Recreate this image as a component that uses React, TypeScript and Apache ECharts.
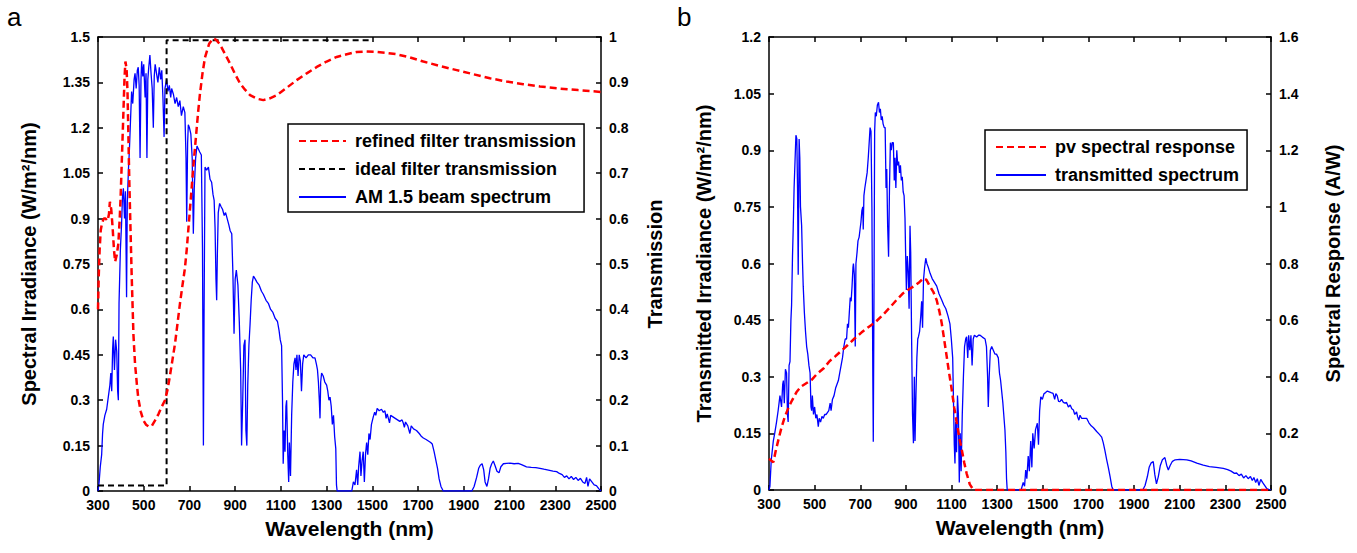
import React, { useEffect, useRef } from "react";
import * as echarts from "echarts";

// ---------- DATA ----------
const wavelengthRange = [300, 2500];
const leftTicksA = [0, 1.5, 0.15];
const rightTicksA = [0, 1, 0.1];
const leftTicksB = [0, 1.2, 0.15];
const rightTicksB = [0, 1.6, 0.2];

// AM 1.5 beam spectrum (W/m2/nm) – panel a
const am15Spectrum: [number, number][] = [
  [300,0.0],[305,0.03],[310,0.08],[316,0.12],[320,0.19],[323,0.22],[330,0.25],[338,0.27],[345,0.31],[352,0.35],[356,0.39],[360,0.33],[364,0.47],[367,0.51],[372,0.40],[377,0.50],[382,0.46],[386,0.33],[389,0.30],[392,0.62],[398,0.80],[403,0.88],[407,0.97],[411,1.00],[416,0.90],[420,0.99],[425,0.64],[428,0.95],[433,1.06],[437,1.12],[441,1.20],[447,1.32],[452,1.28],[458,1.36],[462,1.38],[467,1.33],[472,1.39],[476,1.40],[480,1.34],[484,1.10],[488,1.36],[491,1.42],[496,1.37],[500,1.41],[506,1.30],[510,1.38],[514,1.10],[518,1.36],[522,1.40],[527,1.44],[532,1.38],[537,1.33],[542,1.20],[546,1.37],[550,1.41],[556,1.38],[562,1.35],[568,1.40],[574,1.36],[579,1.39],[584,1.30],[589,1.17],[593,1.33],[600,1.36],[606,1.32],[612,1.34],[618,1.30],[622,1.33],[630,1.31],[637,1.28],[644,1.30],[651,1.27],[658,1.29],[665,1.24],[673,1.27],[680,1.25],[685,1.10],[688,0.89],[692,1.15],[695,1.21],[700,1.20],[706,1.18],[712,1.10],[717,0.85],[721,1.00],[727,1.10],[733,1.14],[739,1.13],[745,1.12],[752,1.11],[757,0.80],[761,0.15],[764,0.60],[768,1.07],[775,1.06],[783,1.07],[790,1.03],[797,1.02],[803,0.98],[808,0.96],[812,0.87],[816,0.70],[819,0.63],[822,0.78],[826,0.92],[832,0.95],[838,0.94],[845,0.93],[852,0.91],[858,0.92],[865,0.90],[872,0.88],[878,0.86],[885,0.85],[890,0.72],[895,0.52],[900,0.70],[905,0.73],[912,0.68],[918,0.56],[924,0.40],[928,0.15],[933,0.30],[938,0.48],[943,0.50],[947,0.20],[951,0.15],[955,0.35],[960,0.48],[965,0.55],[970,0.63],[975,0.69],[980,0.71],[988,0.70],[995,0.69],[1005,0.68],[1015,0.66],[1023,0.65],[1035,0.63],[1045,0.62],[1055,0.60],[1065,0.59],[1075,0.57],[1085,0.56],[1092,0.53],[1097,0.50],[1103,0.48],[1107,0.30],[1110,0.09],[1114,0.20],[1118,0.13],[1122,0.28],[1125,0.30],[1130,0.12],[1134,0.03],[1137,0.16],[1142,0.05],[1147,0.25],[1152,0.36],[1157,0.42],[1162,0.44],[1166,0.40],[1170,0.45],[1175,0.38],[1180,0.45],[1185,0.43],[1190,0.33],[1195,0.42],[1200,0.45],[1210,0.44],[1220,0.45],[1230,0.45],[1240,0.44],[1249,0.44],[1255,0.42],[1260,0.40],[1264,0.36],[1268,0.30],[1271,0.24],[1274,0.36],[1278,0.39],[1285,0.38],[1292,0.36],[1300,0.35],[1305,0.33],[1310,0.30],[1315,0.31],[1320,0.28],[1325,0.22],[1330,0.25],[1335,0.18],[1340,0.14],[1343,0.02],[1346,0.0],[1410,0.0],[1417,0.03],[1424,0.02],[1431,0.07],[1436,0.02],[1440,0.08],[1446,0.13],[1450,0.05],[1455,0.10],[1460,0.13],[1465,0.03],[1470,0.12],[1475,0.16],[1480,0.12],[1485,0.19],[1490,0.17],[1496,0.22],[1504,0.245],[1510,0.26],[1515,0.25],[1521,0.273],[1530,0.265],[1540,0.27],[1548,0.26],[1555,0.265],[1560,0.24],[1565,0.255],[1570,0.24],[1575,0.225],[1580,0.25],[1590,0.245],[1600,0.24],[1610,0.235],[1620,0.23],[1630,0.235],[1635,0.225],[1640,0.21],[1645,0.228],[1655,0.215],[1664,0.19],[1670,0.215],[1680,0.205],[1693,0.20],[1705,0.19],[1715,0.18],[1723,0.175],[1735,0.17],[1745,0.165],[1755,0.16],[1762,0.155],[1770,0.13],[1778,0.10],[1785,0.075],[1792,0.04],[1800,0.015],[1810,0.0],[1935,0.0],[1945,0.015],[1956,0.045],[1965,0.075],[1972,0.085],[1980,0.09],[1987,0.07],[1993,0.03],[2001,0.015],[2008,0.04],[2015,0.075],[2022,0.09],[2029,0.099],[2036,0.085],[2045,0.065],[2054,0.06],[2062,0.08],[2073,0.09],[2087,0.091],[2102,0.092],[2120,0.09],[2138,0.091],[2155,0.086],[2174,0.08],[2195,0.078],[2215,0.077],[2233,0.075],[2250,0.072],[2270,0.069],[2290,0.066],[2306,0.064],[2318,0.058],[2330,0.054],[2340,0.045],[2350,0.05],[2360,0.04],[2370,0.048],[2380,0.038],[2390,0.045],[2400,0.035],[2410,0.042],[2420,0.03],[2430,0.025],[2437,0.045],[2443,0.015],[2450,0.04],[2460,0.03],[2470,0.02],[2480,0.018],[2490,0.008],[2500,0.0]
];

// Refined filter transmission (0-1) – panel a, right axis
const refinedFilter: [number, number][] = [
  [300,0.40],[303,0.47],[307,0.53],[312,0.575],[318,0.59],[325,0.60],[333,0.60],[342,0.595],[348,0.61],[352,0.637],[358,0.62],[364,0.58],[370,0.53],[375,0.505],[382,0.52],[389,0.545],[395,0.60],[399,0.648],[405,0.74],[411,0.832],[416,0.91],[420,0.946],[425,0.93],[429,0.88],[433,0.78],[437,0.68],[442,0.58],[447,0.48],[455,0.344],[462,0.28],[470,0.235],[476,0.205],[487,0.175],[498,0.156],[510,0.146],[522,0.142],[535,0.143],[549,0.155],[565,0.17],[578,0.185],[593,0.2],[605,0.225],[615,0.255],[626,0.29],[637,0.325],[648,0.37],[659,0.415],[670,0.455],[680,0.49],[688,0.531],[695,0.575],[702,0.619],[710,0.67],[717,0.715],[724,0.755],[731,0.795],[738,0.835],[746,0.875],[757,0.92],[768,0.955],[786,0.985],[804,0.997],[818,0.993],[833,0.984],[855,0.963],[877,0.942],[900,0.918],[921,0.898],[943,0.884],[965,0.872],[995,0.864],[1023,0.861],[1052,0.865],[1082,0.872],[1125,0.888],[1169,0.905],[1213,0.92],[1257,0.934],[1300,0.946],[1344,0.956],[1388,0.962],[1431,0.967],[1475,0.968],[1519,0.967],[1562,0.965],[1606,0.962],[1665,0.955],[1723,0.946],[1796,0.936],[1869,0.927],[1942,0.918],[2014,0.909],[2087,0.902],[2160,0.896],[2233,0.891],[2306,0.887],[2400,0.883],[2500,0.879]
];

// Ideal filter transmission (0-1) – panel a, right axis
const idealFilter: [number, number][] = [
  [300,0.012],[600,0.012],[600,0.993],[1500,0.993]
];

// Transmitted spectrum (W/m2/nm) – panel b
const transmittedSpectrum: [number, number][] = [
  [300,0.0],[304,0.01],[310,0.08],[319,0.13],[325,0.15],[333,0.18],[340,0.21],[348,0.25],[355,0.22],[360,0.28],[363,0.29],[367,0.23],[372,0.32],[377,0.31],[381,0.20],[384,0.18],[388,0.33],[392,0.34],[396,0.45],[399,0.49],[403,0.62],[406,0.69],[410,0.80],[414,0.87],[418,0.94],[422,0.93],[425,0.80],[428,0.57],[432,0.93],[435,0.88],[438,0.75],[443,0.70],[447,0.60],[450,0.54],[455,0.47],[460,0.42],[465,0.38],[470,0.36],[475,0.33],[480,0.31],[484,0.22],[487,0.21],[490,0.25],[495,0.20],[500,0.22],[505,0.19],[510,0.20],[516,0.168],[520,0.19],[526,0.18],[532,0.195],[538,0.19],[544,0.20],[550,0.20],[556,0.205],[562,0.21],[568,0.23],[572,0.21],[578,0.24],[585,0.25],[592,0.27],[598,0.28],[604,0.29],[610,0.31],[616,0.33],[622,0.35],[628,0.38],[634,0.40],[640,0.40],[644,0.44],[648,0.43],[652,0.47],[656,0.51],[660,0.50],[664,0.54],[668,0.59],[670,0.60],[674,0.57],[678,0.38],[681,0.60],[686,0.63],[690,0.66],[695,0.67],[699,0.69],[703,0.71],[707,0.74],[711,0.75],[713,0.69],[716,0.78],[720,0.80],[725,0.82],[730,0.84],[735,0.88],[740,0.93],[743,0.96],[747,0.95],[751,0.75],[755,0.30],[757,0.128],[760,0.50],[763,0.95],[766,1.0],[770,0.99],[775,1.02],[780,1.027],[784,1.0],[788,1.01],[792,0.98],[796,0.99],[800,0.97],[805,0.96],[809,0.96],[813,0.80],[816,0.85],[820,0.70],[824,0.618],[828,0.80],[832,0.92],[836,0.90],[840,0.92],[845,0.92],[849,0.82],[852,0.88],[856,0.80],[860,0.90],[864,0.86],[868,0.87],[872,0.84],[876,0.86],[880,0.82],[884,0.83],[888,0.79],[892,0.78],[896,0.72],[899,0.62],[902,0.53],[906,0.62],[910,0.58],[914,0.48],[918,0.70],[921,0.63],[925,0.40],[929,0.20],[933,0.124],[937,0.30],[940,0.13],[944,0.25],[948,0.35],[952,0.40],[955,0.406],[960,0.42],[965,0.46],[969,0.50],[973,0.43],[977,0.556],[982,0.59],[987,0.614],[992,0.60],[998,0.59],[1006,0.574],[1015,0.56],[1025,0.55],[1035,0.54],[1045,0.52],[1057,0.503],[1066,0.49],[1075,0.48],[1085,0.46],[1093,0.44],[1099,0.40],[1105,0.35],[1109,0.22],[1112,0.12],[1115,0.07],[1118,0.18],[1122,0.10],[1126,0.25],[1130,0.20],[1134,0.02],[1138,0.15],[1142,0.05],[1147,0.20],[1152,0.30],[1157,0.38],[1162,0.40],[1166,0.406],[1171,0.35],[1175,0.41],[1180,0.37],[1185,0.41],[1190,0.33],[1195,0.40],[1200,0.41],[1210,0.405],[1218,0.41],[1225,0.41],[1235,0.405],[1247,0.40],[1253,0.38],[1258,0.30],[1261,0.22],[1265,0.30],[1270,0.37],[1276,0.38],[1283,0.37],[1290,0.36],[1297,0.36],[1305,0.35],[1310,0.31],[1315,0.29],[1320,0.26],[1325,0.23],[1330,0.19],[1334,0.159],[1338,0.10],[1341,0.03],[1344,0.0],[1405,0.0],[1414,0.02],[1420,0.01],[1425,0.053],[1430,0.03],[1436,0.09],[1441,0.05],[1447,0.13],[1452,0.06],[1456,0.15],[1462,0.11],[1468,0.16],[1476,0.177],[1481,0.12],[1486,0.21],[1491,0.247],[1498,0.24],[1505,0.255],[1512,0.258],[1520,0.262],[1528,0.26],[1536,0.258],[1545,0.256],[1552,0.24],[1557,0.255],[1563,0.25],[1569,0.235],[1575,0.234],[1582,0.24],[1590,0.232],[1597,0.23],[1604,0.232],[1612,0.22],[1620,0.225],[1627,0.215],[1634,0.212],[1640,0.2],[1648,0.207],[1652,0.195],[1658,0.185],[1663,0.198],[1670,0.19],[1680,0.19],[1692,0.19],[1702,0.178],[1712,0.17],[1722,0.165],[1736,0.155],[1747,0.148],[1758,0.14],[1765,0.125],[1772,0.105],[1780,0.08],[1787,0.06],[1795,0.035],[1802,0.01],[1808,0.0],[1938,0.0],[1948,0.012],[1958,0.035],[1966,0.06],[1975,0.072],[1984,0.075],[1991,0.04],[1998,0.016],[2006,0.035],[2015,0.065],[2024,0.08],[2035,0.086],[2043,0.065],[2050,0.053],[2058,0.065],[2068,0.076],[2080,0.08],[2100,0.081],[2131,0.08],[2150,0.077],[2175,0.071],[2203,0.066],[2230,0.062],[2260,0.06],[2291,0.057],[2310,0.054],[2325,0.05],[2340,0.044],[2349,0.045],[2360,0.038],[2370,0.042],[2380,0.032],[2390,0.038],[2400,0.03],[2410,0.036],[2418,0.025],[2425,0.033],[2433,0.02],[2440,0.03],[2447,0.012],[2455,0.028],[2463,0.02],[2472,0.012],[2481,0.004],[2490,0.002],[2500,0.0]
];

// PV spectral response (A/W) – panel b, right axis
const pvResponse: [number, number][] = [
  [300,0.11],[308,0.105],[319,0.098],[330,0.14],[345,0.19],[356,0.224],[370,0.26],[385,0.29],[400,0.315],[420,0.345],[440,0.365],[465,0.378],[487,0.389],[510,0.41],[540,0.43],[565,0.455],[589,0.471],[615,0.49],[645,0.512],[675,0.535],[705,0.556],[735,0.575],[765,0.592],[795,0.615],[830,0.645],[860,0.672],[888,0.695],[915,0.71],[940,0.722],[960,0.735],[977,0.748],[990,0.742],[1006,0.718],[1020,0.70],[1035,0.67],[1047,0.63],[1057,0.589],[1068,0.53],[1079,0.47],[1090,0.41],[1101,0.353],[1112,0.29],[1123,0.236],[1134,0.185],[1145,0.141],[1156,0.095],[1166,0.059],[1180,0.02],[1196,0.0],[2500,0.0]
];

const FONT = "'Liberation Sans', Arial, Helvetica, sans-serif";
const BLACK = "#000";
const fmt = (v: number) => String(Math.round(v * 100) / 100);
const fmtX = (v: number) => String(Math.round(v));

function xAxes(grid: number) {
  const common = {
    gridIndex: grid,
    type: "value" as const,
    min: wavelengthRange[0],
    max: wavelengthRange[1],
    interval: 200,
    splitLine: { show: false },
    axisLine: { show: true, onZero: false, lineStyle: { color: BLACK, width: 1.5 } },
    axisTick: { show: true, inside: true, length: 5, lineStyle: { color: BLACK, width: 1.5 } },
  };
  return [
    {
      ...common,
      position: "bottom",
      axisLabel: { formatter: fmtX, color: BLACK, fontWeight: "bold", fontSize: 14, fontFamily: FONT, margin: 7, showMinLabel: true, showMaxLabel: true },
      name: "Wavelength (nm)",
      nameLocation: "middle",
      nameGap: 27,
      nameTextStyle: { color: BLACK, fontWeight: "bold", fontSize: 21, fontFamily: FONT },
    },
    { ...common, position: "top", axisLabel: { show: false } },
  ];
}

function yAxis(grid: number, ticks: number[], position: "left" | "right", name: string, nameGap: number) {
  return {
    gridIndex: grid,
    type: "value" as const,
    position,
    min: ticks[0],
    max: ticks[1],
    interval: ticks[2],
    splitLine: { show: false },
    axisLine: { show: true, onZero: false, lineStyle: { color: BLACK, width: 1.5 } },
    axisTick: { show: true, inside: true, length: 5, lineStyle: { color: BLACK, width: 1.5 } },
    axisLabel: { formatter: fmt, color: BLACK, fontWeight: "bold", fontSize: 14, fontFamily: FONT, margin: 8, showMinLabel: true, showMaxLabel: true },
    name,
    nameLocation: "middle",
    nameRotate: 90,
    nameGap,
    nameTextStyle: { color: BLACK, fontWeight: "bold", fontSize: 20, fontFamily: FONT },
  };
}

const legendCommon = {
  orient: "vertical" as const,
  backgroundColor: "#fff",
  borderColor: BLACK,
  borderWidth: 1.5,
  borderRadius: 0,
  itemWidth: 47,
  itemHeight: 14,
  itemGap: 10,
  selectedMode: false,
  itemStyle: { opacity: 0 },
  textStyle: { color: BLACK, fontWeight: "bold", fontSize: 18, fontFamily: FONT, padding: [0, 0, 0, 4] },
};

export default function App() {
  const ref = useRef<HTMLDivElement>(null);
  useEffect(() => {
    if (!ref.current) return;
    const chart = echarts.init(ref.current, null, { renderer: "svg" });
    const red = { color: "#ff0000", width: 2.5, type: [7, 4] as number[] };
    chart.setOption({
      animation: false,
      backgroundColor: "#fff",
      textStyle: { fontFamily: FONT },
      grid: [
        { left: 98, top: 37, width: 503, height: 454 },
        { left: 769, top: 37, width: 502, height: 453 },
      ],
      xAxis: [...xAxes(0), ...xAxes(1)],
      yAxis: [
        yAxis(0, leftTicksA, "left", "Spectral Irradiance (W/m²/nm)", 59),
        yAxis(0, rightTicksA, "right", "Transmission", 44),
        yAxis(1, leftTicksB, "left", "Transmitted Irradiance (W/m²/nm)", 55),
        yAxis(1, rightTicksB, "right", "Spectral Response (A/W)", 52),
      ],
      legend: [
        {
          ...legendCommon,
          left: 288,
          top: 124,
          padding: [8, 8, 6, 10],
          data: ["refined filter transmission", "ideal filter transmission", "AM 1.5 beam spectrum"],
        },
        {
          ...legendCommon,
          left: 985,
          top: 130,
          itemWidth: 50,
          padding: [8, 8, 6, 10],
          data: ["pv spectral response", "transmitted spectrum"],
        },
      ],
      graphic: [
        { type: "text", left: 7, top: 4, style: { text: "a", fontSize: 26, fontFamily: FONT, fill: BLACK } },
        { type: "text", left: 677, top: 4, style: { text: "b", fontSize: 26, fontFamily: FONT, fill: BLACK } },
      ],
      series: [
        {
          name: "AM 1.5 beam spectrum", type: "line", xAxisIndex: 0, yAxisIndex: 0, data: am15Spectrum,
          symbol: "none", lineStyle: { color: "#0000ff", width: 1.3 }, itemStyle: { color: "#0000ff" },
        },
        {
          name: "ideal filter transmission", type: "line", xAxisIndex: 0, yAxisIndex: 1, data: idealFilter,
          symbol: "none", lineStyle: { color: BLACK, width: 2, type: [6, 4] }, itemStyle: { color: BLACK },
        },
        {
          name: "refined filter transmission", type: "line", xAxisIndex: 0, yAxisIndex: 1, data: refinedFilter,
          symbol: "none", smooth: false, lineStyle: red, itemStyle: { color: "#ff0000" },
        },
        {
          name: "transmitted spectrum", type: "line", xAxisIndex: 2, yAxisIndex: 2, data: transmittedSpectrum,
          symbol: "none", lineStyle: { color: "#0000ff", width: 1.3 }, itemStyle: { color: "#0000ff" },
        },
        {
          name: "pv spectral response", type: "line", xAxisIndex: 2, yAxisIndex: 3, data: pvResponse,
          symbol: "none", lineStyle: red, itemStyle: { color: "#ff0000" },
        },
      ],
    });
    return () => chart.dispose();
  }, []);
  return (
    <div
      ref={ref}
      style={{ position: "fixed", left: 0, top: 0, width: 1357, height: 553, background: "#fff" }}
    />
  );
}
